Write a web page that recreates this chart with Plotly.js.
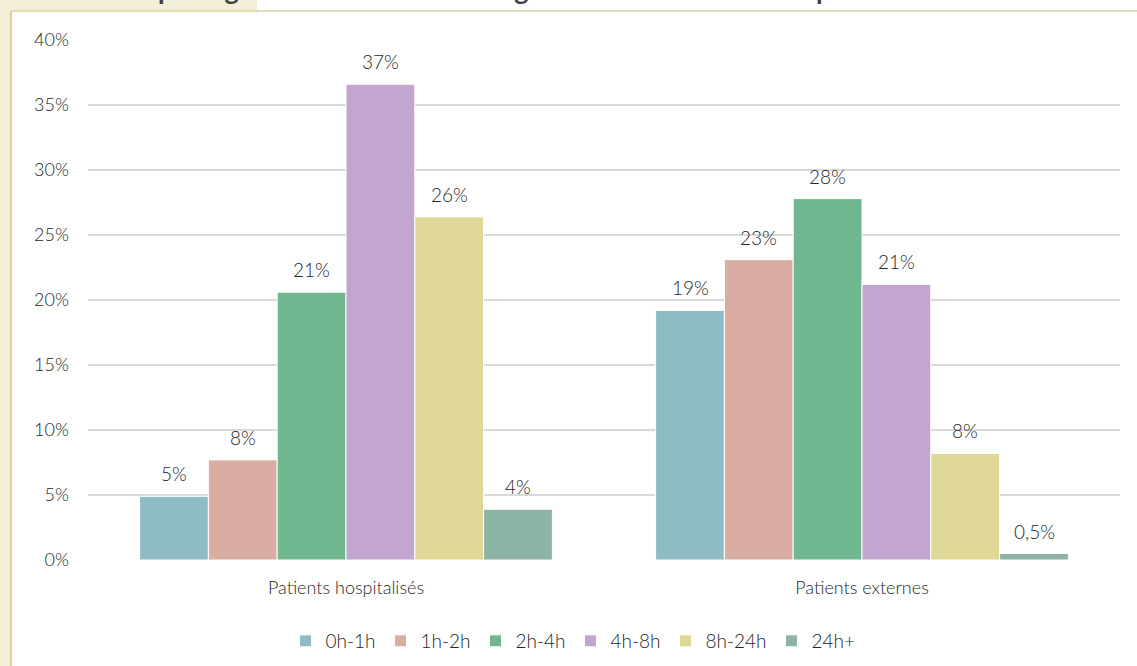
<!DOCTYPE html>
<html>
<head>
<meta charset="utf-8">
<script src="https://cdn.plot.ly/plotly-3.0.1.min.js"></script>
<style>
html,body{margin:0;padding:0;background:#fff;}
#chart{width:1137px;height:666px;}
</style>
</head>
<body>
<div id="chart"></div>
<script>
// ---- Data ----
const categories = ["Patients hospitalisés", "Patients externes"];
const seriesNames = ["0h-1h", "1h-2h", "2h-4h", "4h-8h", "8h-24h", "24h+"];
const s_0h_1h  = [4.9, 19.2];
const s_1h_2h  = [7.7, 23.1];
const s_2h_4h  = [20.6, 27.8];
const s_4h_8h  = [36.6, 21.2];
const s_8h_24h = [26.4, 8.2];
const s_24h    = [3.9, 0.5];
const labels_0h_1h  = ["5%", "19%"];
const labels_1h_2h  = ["8%", "23%"];
const labels_2h_4h  = ["21%", "28%"];
const labels_4h_8h  = ["37%", "21%"];
const labels_8h_24h = ["26%", "8%"];
const labels_24h    = ["4%", "0,5%"];
const yTickVals = [0, 5, 10, 15, 20, 25, 30, 35, 40];
const yTickText = ["0%", "5%", "10%", "15%", "20%", "25%", "30%", "35%", "40%"];
const titleText = "Durée de passage dans le service des urgences selon le statut du patient";

const seriesValues = [s_0h_1h, s_1h_2h, s_2h_4h, s_4h_8h, s_8h_24h, s_24h];
const seriesLabels = [labels_0h_1h, labels_1h_2h, labels_2h_4h, labels_4h_8h, labels_8h_24h, labels_24h];
const colors = ["#8FBCC4", "#D9ADA1", "#70B790", "#C2A6CF", "#DED795", "#8DB3A4"];

const FONT = "Lato, 'Open Sans', sans-serif";
const W = 1137, H = 666;
const margin = {l: 88, r: 17, t: 40, b: 106, autoexpand: false};
const pw = W - margin.l - margin.r, ph = H - margin.t - margin.b;
const px = x => (x - margin.l) / pw;
const py = y => (H - margin.b - y) / ph;
const bargap = 0.2;

const traces = seriesNames.map((name, i) => ({
  type: "bar",
  name: name,
  x: categories,
  y: seriesValues[i],
  marker: {color: colors[i], line: {color: "#ffffff", width: 1}},
  hoverinfo: "skip"
}));

const n = seriesNames.length;
const annotations = [];
seriesNames.forEach((name, i) => {
  categories.forEach((c, j) => {
    annotations.push({
      xref: "x", yref: "y",
      x: j + (i - (n - 1) / 2) * (1 - bargap) / n,
      y: seriesValues[i][j],
      text: seriesLabels[i][j],
      showarrow: false,
      xanchor: "center", yanchor: "bottom",
      yshift: 9,
      font: {family: FONT, size: 19, color: "#262626", weight: 300}
    });
  });
});
annotations.push({
  xref: "paper", yref: "paper",
  x: px(40), y: py(7),
  xanchor: "left", yanchor: "bottom",
  text: "<b>" + titleText + "</b>",
  showarrow: false,
  borderpad: 0,
  font: {family: FONT, size: 27, color: "#404040"}
});

const shapes = [
  {type: "rect", xref: "paper", yref: "paper", x0: px(-5), x1: px(11), y0: py(H + 5), y1: py(-5), fillcolor: "#F2EED8", line: {width: 0}, layer: "below"},
  {type: "rect", xref: "paper", yref: "paper", x0: px(-5), x1: px(257), y0: py(11), y1: py(-5), fillcolor: "#F2EED8", line: {width: 0}, layer: "below"},
  {type: "line", xref: "paper", yref: "paper", x0: px(11), x1: px(W + 5), y0: py(11), y1: py(11), line: {color: "#D8D49E", width: 1.5}, layer: "below"},
  {type: "line", xref: "paper", yref: "paper", x0: px(11), x1: px(11), y0: py(11), y1: py(H + 5), line: {color: "#DDD49A", width: 2}, layer: "below"}
];

const layout = {
  width: W, height: H,
  margin: margin,
  paper_bgcolor: "#ffffff",
  plot_bgcolor: "rgba(0,0,0,0)",
  barmode: "group",
  bargap: bargap,
  bargroupgap: 0,
  showlegend: true,
  legend: {
    orientation: "h",
    x: 0.47, xanchor: "center",
    y: py(622), yanchor: "top",
    font: {family: FONT, size: 19, color: "#262626", weight: 300},
    itemwidth: 30,
    traceorder: "normal"
  },
  xaxis: {
    type: "category",
    tickfont: {family: FONT, size: 18, color: "#262626", weight: 300},
    showgrid: false,
    zeroline: false,
    showline: false,
    ticks: "",
    automargin: false,
    ticklabelstandoff: 15
  },
  yaxis: {
    range: [0, 40],
    tickvals: yTickVals,
    ticktext: yTickText,
    tickfont: {family: FONT, size: 18, color: "#262626", weight: 300},
    showgrid: true,
    gridcolor: "#D9D9D9",
    gridwidth: 1.5,
    zeroline: false,
    showline: false,
    ticks: "",
    automargin: false,
    ticklabelstandoff: 18
  },
  annotations: annotations,
  shapes: shapes
};

Plotly.newPlot("chart", traces, layout, {displayModeBar: false, staticPlot: true});
</script>
</body>
</html>
